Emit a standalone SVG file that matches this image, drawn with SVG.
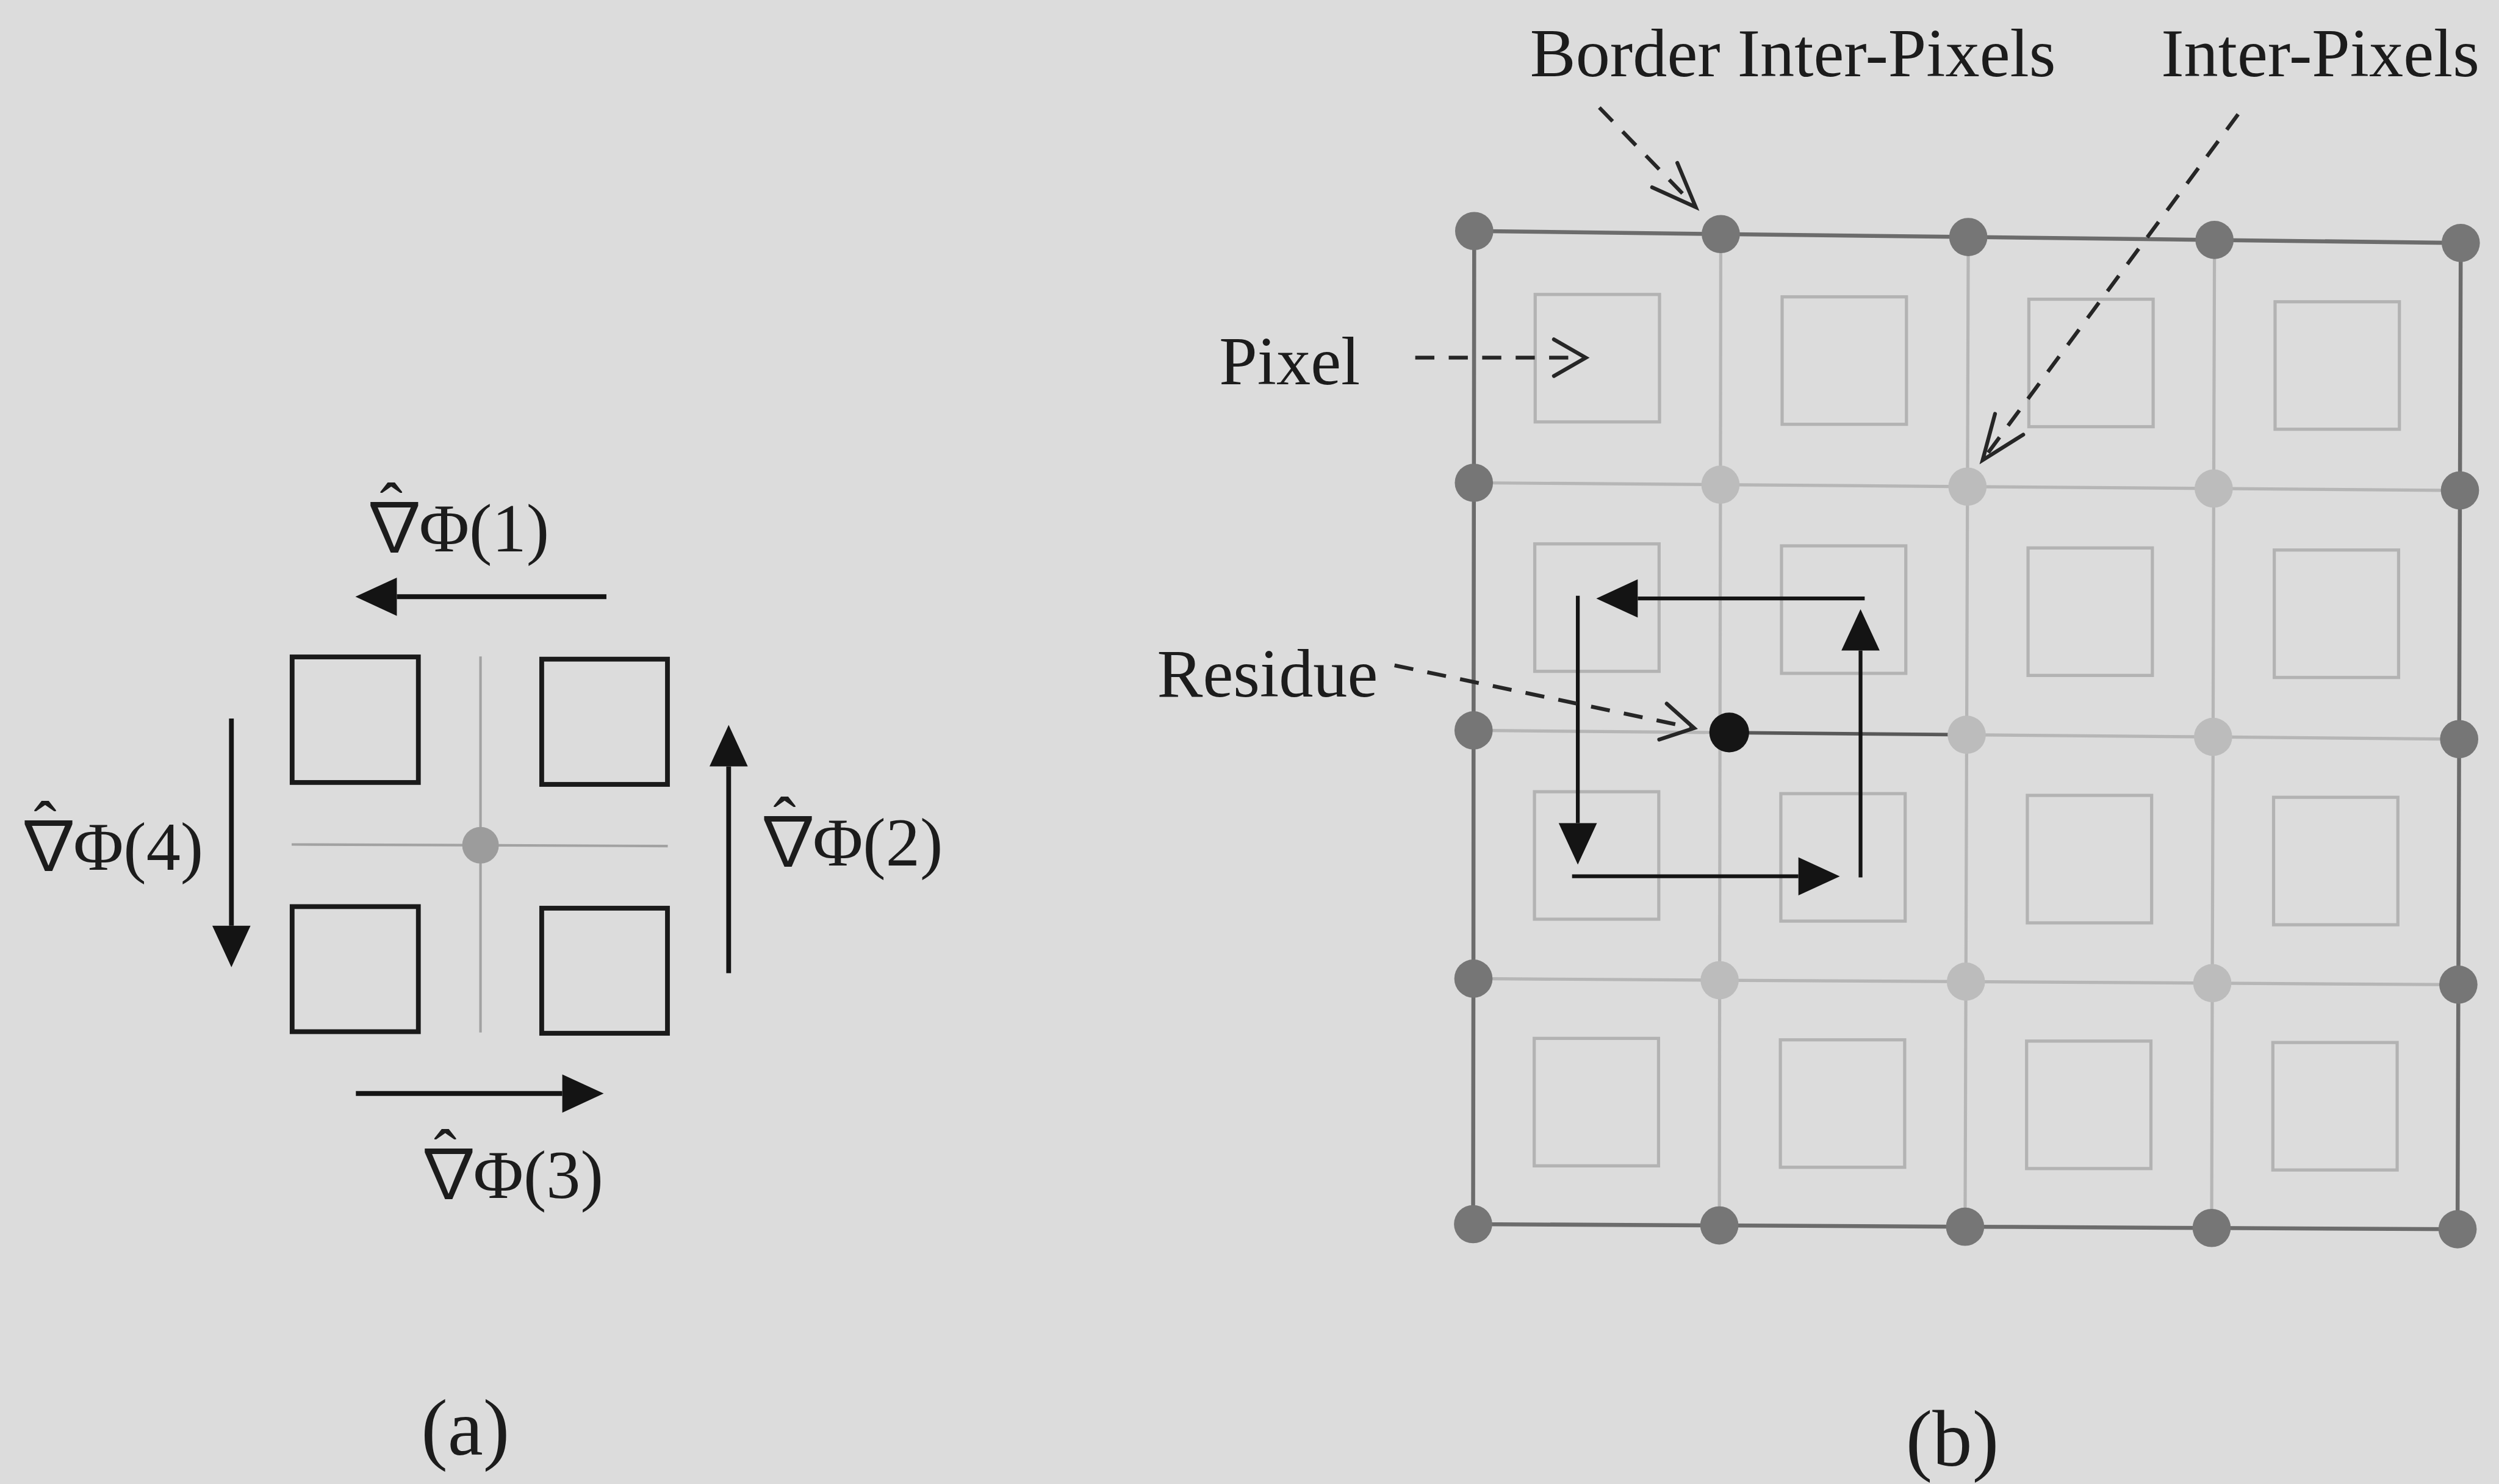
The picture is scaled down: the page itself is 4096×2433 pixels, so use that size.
<svg xmlns="http://www.w3.org/2000/svg" width="4096" height="2433" viewBox="0 0 4096 2433">
  <style>
    .lbl { font-family: "Liberation Serif", "DejaVu Serif", "Times New Roman", serif; font-size: 43px; fill: #1c1c1c; }
    .nab { font-family: "Noto Sans CJK JP", "DejaVu Sans", sans-serif; font-size: 43px; }
    .hat { text-anchor: middle; }
    .cap { font-family: "Liberation Serif", "DejaVu Serif", serif; font-size: 50px; fill: #1c1c1c; text-anchor: middle; }
    .cell { fill: none; stroke: #1a1a1a; stroke-width: 3; }
    .axis { fill: none; stroke: #a2a2a2; stroke-width: 1.6; }
    .grad { fill: none; stroke: #141414; stroke-width: 3; marker-end: url(#head); }
    .loop { fill: none; stroke: #141414; stroke-width: 2.4; marker-end: url(#head); }
    .pix { fill: none; stroke: #b3b3b3; stroke-width: 2; }
    .inner { fill: none; stroke: #b6b6b6; stroke-width: 2; }
    .border { fill: none; stroke: #6c6c6c; stroke-width: 2.5; stroke-linejoin: round; }
    .cut { fill: none; stroke: #585858; stroke-width: 2.2; }
    .bnode { fill: #767676; }
    .inode { fill: #bcbcbc; }
    .lead { fill: none; stroke: #262626; stroke-width: 2.4; stroke-dasharray: 12 9; }
    .leadS { marker-end: url(#chevS); }
    .leadL { marker-end: url(#chevL); }
  </style>
  <defs>
    <marker id="head" markerUnits="userSpaceOnUse" viewBox="0 -13 26 26" refX="0" refY="0" markerWidth="26" markerHeight="26" orient="auto" overflow="visible">
      <path d="M0,-12 L26,0 L0,12 Z" fill="#141414"/>
    </marker>
    <marker id="chevS" markerUnits="userSpaceOnUse" viewBox="-24 -15 28 30" refX="0" refY="0" markerWidth="28" markerHeight="30" orient="auto" overflow="visible">
      <path d="M-20,-11.5 L0,0 L-20,11.5" fill="none" stroke="#262626" stroke-width="2.4" stroke-linecap="round"/>
    </marker>
    <marker id="chevL" markerUnits="userSpaceOnUse" viewBox="-32 -15 36 30" refX="0" refY="0" markerWidth="36" markerHeight="30" orient="auto" overflow="visible">
      <path d="M-28,-11 L0,0 L-28,11" fill="none" stroke="#262626" stroke-width="2.4" stroke-linecap="round"/>
    </marker>
  </defs>

  <rect x="0" y="0" width="4096" height="2433" fill="#dcdcdc"/>

  <g transform="scale(2.612245)">

    <!-- (a) four pixels around one inter-pixel -->
    <g id="panel-a">
      <g id="a-axes">
        <line class="axis" x1="301.5" y1="412" x2="301.5" y2="648"/>
        <line class="axis" x1="183" y1="530" x2="419" y2="531"/>
        <circle cx="301.5" cy="530.5" r="11.5" fill="#9c9c9c"/>
      </g>
      <g id="a-pixels">
        <rect class="cell" x="183.3" y="412.3" width="79.2" height="78.8"/>
        <rect class="cell" x="339.9" y="413.7" width="78.9" height="78.6"/>
        <rect class="cell" x="183.3" y="569" width="79.2" height="78.5"/>
        <rect class="cell" x="339.9" y="570" width="78.9" height="78.5"/>
      </g>
      <g id="a-gradients">
        <line class="grad" x1="380.5" y1="374.5" x2="249" y2="374.5"/>
        <line class="grad" x1="457.2" y1="610.8" x2="457.2" y2="481"/>
        <line class="grad" x1="223.3" y1="686.3" x2="352.8" y2="686.3"/>
        <line class="grad" x1="145.2" y1="451" x2="145.2" y2="581"/>
      </g>
      <g id="a-labels">
        <!-- each label: nabla, its hat, then the rest of the expression -->
        <text id="lbl-grad1" class="lbl"><tspan class="nab" x="226" y="346">∇</tspan><tspan class="hat" x="245.5" y="332.6">ˆ</tspan><tspan x="263" y="346">Φ(1)</tspan></text>
        <text id="lbl-grad2" class="lbl"><tspan class="nab" x="473" y="543.4">∇</tspan><tspan class="hat" x="492.3" y="530">ˆ</tspan><tspan x="510" y="543.4">Φ(2)</tspan></text>
        <text id="lbl-grad3" class="lbl"><tspan class="nab" x="260" y="752">∇</tspan><tspan class="hat" x="279.3" y="738.6">ˆ</tspan><tspan x="297" y="752">Φ(3)</tspan></text>
        <text id="lbl-grad4" class="lbl"><tspan class="nab" x="9" y="546">∇</tspan><tspan class="hat" x="28.3" y="532.6">ˆ</tspan><tspan x="46" y="546">Φ(4)</tspan></text>
        <text class="cap" x="292" y="913">(a)</text>
      </g>
    </g>

    <!-- (b) pixel grid with inter-pixel nodes and a residue -->
    <g id="panel-b">
      <g id="b-grid">
        <polyline class="inner" points="924.8,303 1079.5,304.2 1234.5,305.4 1389,306.6 1543.5,307.8"/>
        <polyline class="inner" points="924.6,458.4 1085,459.8"/>
        <polyline class="inner" points="1234,461.15 1388.6,462.5 1543,463.9"/>
        <polyline class="inner" points="924.5,614.2 1079,615.2 1233.5,616.1 1388.1,617.05 1542.5,618"/>
        <polyline class="inner" points="1079.7,146.9 1079.5,304.2 1079.2,459.8 1079,615.2 1078.8,769.1"/>
        <polyline class="inner" points="1235,148.75 1234.5,305.4 1234,461.15 1233.5,616.1 1233,769.9"/>
        <polyline class="inner" points="1389.5,150.6 1389,306.6 1388.6,462.5 1388.1,617.05 1387.7,770.7"/>
        <polyline class="cut" points="1085,459.8 1234,461.15"/>
        <polygon class="border" points="925,145 1079.7,146.9 1235,148.75 1389.5,150.6 1544,152.5 1543.5,307.8 1543,463.9 1542.5,618 1542,771.5 1387.7,770.7 1233,769.9 1078.8,769.1 924.3,768.3 924.5,614.2 924.6,458.4 924.8,303"/>
      </g>
      <g id="b-pixels">
        <rect class="pix" x="963.25" y="184.8" width="78" height="80"/>
        <rect class="pix" x="1118.2" y="186.3" width="78" height="80"/>
        <rect class="pix" x="1273" y="187.8" width="78" height="80"/>
        <rect class="pix" x="1427.5" y="189.4" width="78" height="80"/>
        <rect class="pix" x="963" y="341.35" width="78" height="80"/>
        <rect class="pix" x="1117.8" y="342.6" width="78" height="80"/>
        <rect class="pix" x="1272.5" y="343.9" width="78" height="80"/>
        <rect class="pix" x="1427" y="345.2" width="78" height="80"/>
        <rect class="pix" x="962.8" y="496.9" width="78" height="80"/>
        <rect class="pix" x="1117.4" y="498.1" width="78" height="80"/>
        <rect class="pix" x="1272.05" y="499.2" width="78" height="80"/>
        <rect class="pix" x="1426.55" y="500.4" width="78" height="80"/>
        <rect class="pix" x="962.65" y="651.7" width="78" height="80"/>
        <rect class="pix" x="1117.1" y="652.6" width="78" height="80"/>
        <rect class="pix" x="1271.6" y="653.4" width="78" height="80"/>
        <rect class="pix" x="1426.1" y="654.3" width="78" height="80"/>
      </g>
      <g id="b-border-nodes">
        <circle class="bnode" cx="925" cy="145" r="12"/>
        <circle class="bnode" cx="1079.7" cy="146.9" r="12"/>
        <circle class="bnode" cx="1235" cy="148.75" r="12"/>
        <circle class="bnode" cx="1389.5" cy="150.6" r="12"/>
        <circle class="bnode" cx="1544" cy="152.5" r="12"/>
        <circle class="bnode" cx="924.8" cy="303" r="12"/>
        <circle class="bnode" cx="1543.5" cy="307.8" r="12"/>
        <circle class="bnode" cx="924.6" cy="458.4" r="12"/>
        <circle class="bnode" cx="1543" cy="463.9" r="12"/>
        <circle class="bnode" cx="924.5" cy="614.2" r="12"/>
        <circle class="bnode" cx="1542.5" cy="618" r="12"/>
        <circle class="bnode" cx="924.3" cy="768.3" r="12"/>
        <circle class="bnode" cx="1078.8" cy="769.1" r="12"/>
        <circle class="bnode" cx="1233" cy="769.9" r="12"/>
        <circle class="bnode" cx="1387.7" cy="770.7" r="12"/>
        <circle class="bnode" cx="1542" cy="771.5" r="12"/>
      </g>
      <g id="b-inner-nodes">
        <circle class="inode" cx="1079.5" cy="304.2" r="12"/>
        <circle class="inode" cx="1234.5" cy="305.4" r="12"/>
        <circle class="inode" cx="1389" cy="306.6" r="12"/>
        <circle class="inode" cx="1234" cy="461.15" r="12"/>
        <circle class="inode" cx="1388.6" cy="462.5" r="12"/>
        <circle class="inode" cx="1079" cy="615.2" r="12"/>
        <circle class="inode" cx="1233.5" cy="616.1" r="12"/>
        <circle class="inode" cx="1388.1" cy="617.05" r="12"/>
      </g>
      <g id="residue">
        <circle cx="1085" cy="459.7" r="12.5" fill="#151515"/>
      </g>
      <g id="b-loop">
        <line class="loop" x1="1170" y1="375.6" x2="1027.6" y2="375.6"/>
        <line class="loop" x1="990" y1="373.9" x2="990" y2="516.6"/>
        <line class="loop" x1="986.4" y1="550" x2="1128.4" y2="550"/>
        <line class="loop" x1="1167.4" y1="550.7" x2="1167.4" y2="408.3"/>
      </g>
      <g id="b-leaders">
        <line class="lead leadS" x1="888" y1="224.5" x2="995" y2="224.5"/>
        <line class="lead leadS" x1="875" y1="417.6" x2="1063" y2="457"/>
        <line class="lead leadL" x1="1003.5" y1="67.5" x2="1064" y2="130"/>
        <line class="lead leadL" x1="1404.3" y1="71.7" x2="1244" y2="288.8"/>
      </g>
      <g id="b-labels">
        <text class="lbl" x="960" y="48">Border Inter-Pixels</text>
        <text class="lbl" x="1356" y="48">Inter-Pixels</text>
        <text class="lbl" x="765" y="241">Pixel</text>
        <text class="lbl" x="726" y="437">Residue</text>
        <text class="cap" x="1225" y="920">(b)</text>
      </g>
    </g>
  </g>
</svg>
